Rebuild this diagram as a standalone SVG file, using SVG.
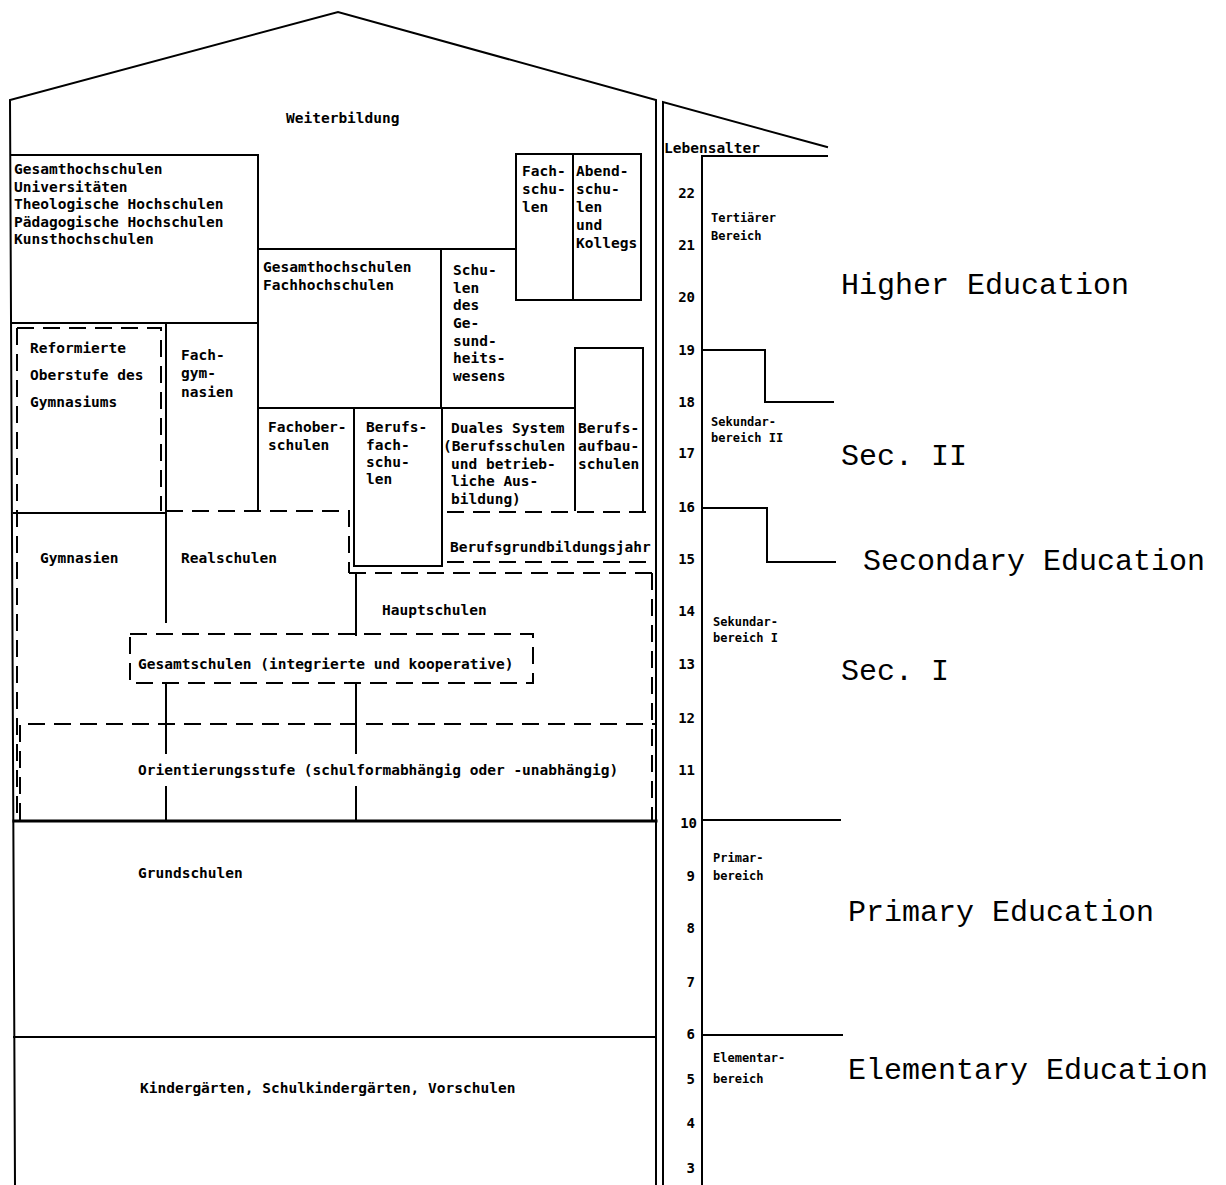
<svg xmlns="http://www.w3.org/2000/svg" width="1226" height="1185" viewBox="0 0 1226 1185">
<style>
.l{stroke:#000;stroke-width:2;fill:none;stroke-linecap:square}
.d{stroke:#000;stroke-width:2;fill:none;stroke-dasharray:17 9}
.t{font-family:"DejaVu Sans Mono","Liberation Mono",monospace;font-size:14.5px;font-weight:bold;fill:#000}
.s{font-family:"DejaVu Sans Mono","Liberation Mono",monospace;font-size:12px;font-weight:bold;fill:#000}
.n{font-family:"DejaVu Sans Mono","Liberation Mono",monospace;font-size:14px;font-weight:bold;fill:#000;text-anchor:end}
.e{font-family:"Liberation Mono","Courier New",monospace;font-size:30px;fill:#000}
</style>
<rect width="1226" height="1185" fill="#fff"/>
<g id="frame">
<path class="l" d="M15,1185 L10,100 L338,12 L656,100 L656,1185"/>
<path class="l" d="M663,1185 L663,102 L827,147"/>
<path class="l" d="M827,156 H702 V1185"/>
</g>
<g id="connectors">
<path class="l" d="M702,350 H765 V402 H833"/>
<path class="l" d="M702,508 H767 V562 H835"/>
<path class="l" d="M702,820 H840"/>
<path class="l" d="M702,1035 H842"/>
</g>
<g id="weiterbildung"><text class="t" x="286" y="123">Weiterbildung</text></g>
<g id="hochschulen">
<path class="l" d="M12,155 H258 V510 M12,323 H258"/>
<text class="t" x="14" y="174">Gesamthochschulen</text>
<text class="t" x="14" y="192">Universitäten</text>
<text class="t" x="14" y="209">Theologische Hochschulen</text>
<text class="t" x="14" y="227">Pädagogische Hochschulen</text>
<text class="t" x="14" y="244">Kunsthochschulen</text>
</g>
<g id="fachhochschulen">
<path class="l" d="M258,249 H516 M441,249 V408"/>
<text class="t" x="263" y="272">Gesamthochschulen</text>
<text class="t" x="263" y="290">Fachhochschulen</text>
</g>
<g id="fachschulen">
<rect class="l" x="516" y="154" width="57" height="146"/>
<text class="t" x="522" y="176">Fach-</text>
<text class="t" x="522" y="194">schu-</text>
<text class="t" x="522" y="212">len</text>
</g>
<g id="abendschulen">
<rect class="l" x="573" y="154" width="68" height="146"/>
<text class="t" x="576" y="176">Abend-</text>
<text class="t" x="576" y="194">schu-</text>
<text class="t" x="576" y="212">len</text>
<text class="t" x="576" y="230">und</text>
<text class="t" x="576" y="248">Kollegs</text>
</g>
<g id="gesundheitswesen">
<text class="t" x="453" y="275">Schu-</text>
<text class="t" x="453" y="293">len</text>
<text class="t" x="453" y="310">des</text>
<text class="t" x="453" y="328">Ge-</text>
<text class="t" x="453" y="346">sund-</text>
<text class="t" x="453" y="363">heits-</text>
<text class="t" x="453" y="381">wesens</text>
</g>
<g id="oberstufe">
<path class="d" d="M17,328 H161 V511"/>
<path class="l" d="M14,513 H166"/>
<text class="t" x="30" y="353">Reformierte</text>
<text class="t" x="30" y="380">Oberstufe des</text>
<text class="t" x="30" y="407">Gymnasiums</text>
</g>
<g id="fachgymnasien">
<path class="l" d="M166,323 V622"/>
<text class="t" x="181" y="360">Fach-</text>
<text class="t" x="181" y="378">gym-</text>
<text class="t" x="181" y="397">nasien</text>
</g>
<g id="fachoberschulen">
<path class="l" d="M258,408 H575"/>
<text class="t" x="268" y="432">Fachober-</text>
<text class="t" x="268" y="450">schulen</text>
</g>
<g id="berufsfachschulen">
<path class="l" d="M354,408 V566 H442 V408"/>
<text class="t" x="366" y="432">Berufs-</text>
<text class="t" x="366" y="450">fach-</text>
<text class="t" x="366" y="467">schu-</text>
<text class="t" x="366" y="484">len</text>
</g>
<g id="duales-system">
<text class="t" x="451" y="433">Duales System</text>
<text class="t" x="443" y="451">(Berufsschulen</text>
<text class="t" x="451" y="469">und betrieb-</text>
<text class="t" x="451" y="486">liche Aus-</text>
<text class="t" x="451" y="504">bildung)</text>
</g>
<g id="berufsaufbauschulen">
<path class="l" d="M575,510 V348 H643 V510"/>
<text class="t" x="578" y="433">Berufs-</text>
<text class="t" x="578" y="451">aufbau-</text>
<text class="t" x="578" y="469">schulen</text>
</g>
<g id="berufsgrundbildungsjahr">
<path class="d" d="M447,512 H655 M447,562 H655"/>
<text class="t" x="450" y="552">Berufsgrundbildungsjahr</text>
</g>
<g id="gymnasien"><text class="t" x="40" y="563">Gymnasien</text></g>
<g id="realschulen">
<path class="d" d="M166,511 H349 V573"/>
<text class="t" x="181" y="563">Realschulen</text>
</g>
<g id="hauptschulen">
<path class="d" d="M349,573 H655"/>
<path class="l" d="M356,573 V635"/>
<text class="t" x="382" y="615">Hauptschulen</text>
</g>
<g id="gesamtschulen">
<rect class="d" x="130" y="634" width="403" height="49"/>
<text class="t" x="138" y="669">Gesamtschulen (integrierte und kooperative)</text>
</g>
<g id="orientierungsstufe">
<path class="d" d="M20,820 V724 H655"/>
<path class="d" d="M17,328 V820 M652,573 V820"/>
<path class="l" d="M166,683 V753 M166,787 V820 M356,683 V753 M356,787 V820"/>
<text class="t" x="138" y="775">Orientierungsstufe (schulformabhängig oder -unabhängig)</text>
</g>
<g id="grundschulen">
<path class="l" d="M14,821 H656" style="stroke-width:3"/>
<text class="t" x="138" y="878">Grundschulen</text>
</g>
<g id="kindergaerten">
<path class="l" d="M14,1037 H656"/>
<text class="t" x="140" y="1093">Kindergärten, Schulkindergärten, Vorschulen</text>
</g>
<g id="lebensalter">
<text class="t" x="664" y="153">Lebensalter</text>
<text class="n" x="695" y="198">22</text>
<text class="n" x="695" y="250">21</text>
<text class="n" x="695" y="302">20</text>
<text class="n" x="695" y="355">19</text>
<text class="n" x="695" y="407">18</text>
<text class="n" x="695" y="458">17</text>
<text class="n" x="695" y="512">16</text>
<text class="n" x="695" y="564">15</text>
<text class="n" x="695" y="616">14</text>
<text class="n" x="695" y="669">13</text>
<text class="n" x="695" y="723">12</text>
<text class="n" x="695" y="775">11</text>
<text class="n" x="697" y="828">10</text>
<text class="n" x="695" y="881">9</text>
<text class="n" x="695" y="933">8</text>
<text class="n" x="695" y="987">7</text>
<text class="n" x="695" y="1039">6</text>
<text class="n" x="695" y="1084">5</text>
<text class="n" x="695" y="1128">4</text>
<text class="n" x="695" y="1173">3</text>
</g>
<g id="bereiche">
<text class="s" x="711" y="222">Tertiärer</text>
<text class="s" x="711" y="240">Bereich</text>
<text class="s" x="711" y="426">Sekundar-</text>
<text class="s" x="711" y="442">bereich II</text>
<text class="s" x="713" y="626">Sekundar-</text>
<text class="s" x="713" y="642">bereich I</text>
<text class="s" x="713" y="862">Primar-</text>
<text class="s" x="713" y="880">bereich</text>
<text class="s" x="713" y="1062">Elementar-</text>
<text class="s" x="713" y="1083">bereich</text>
</g>
<g id="english">
<text class="e" x="841" y="294">Higher Education</text>
<text class="e" x="841" y="465">Sec. II</text>
<text class="e" x="863" y="570">Secondary Education</text>
<text class="e" x="841" y="680">Sec. I</text>
<text class="e" x="848" y="921">Primary Education</text>
<text class="e" x="848" y="1079">Elementary Education</text>
</g>
</svg>
